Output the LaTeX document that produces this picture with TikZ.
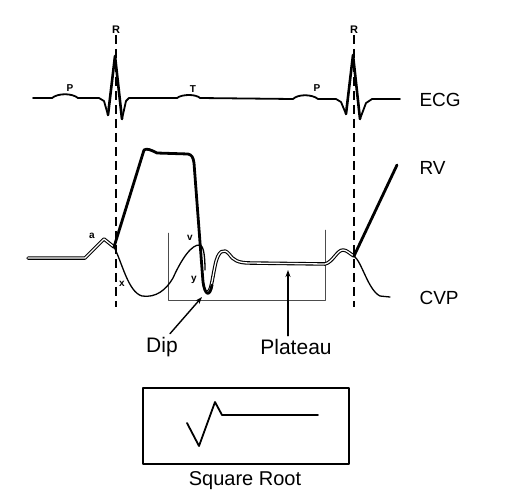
\documentclass[tikz,border=0pt]{standalone}
\usepackage{fontspec}
\setmainfont{Liberation Sans}
\usetikzlibrary{arrows.meta}

\begin{document}
\begin{tikzpicture}[x=1pt,y=-1pt,line cap=round,line join=round,
  big/.style={font=\fontsize{19}{19}\selectfont},
  bigger/.style={font=\fontsize{21}{21}\selectfont},
  tiny/.style={font=\fontsize{10}{10}\selectfont\bfseries,inner sep=1pt},
  rline/.style={line width=2.8pt,dash pattern=on 9pt off 5pt,line cap=butt},
  ecg/.style={line width=1.8pt},
  rv/.style={line width=2.8pt},
  cvp/.style={line width=1.3pt},
  cvpdbl/.style={draw=black,double=white,line width=1.1pt,double distance=1.3pt},
  box/.style={thin,black!70},
  pointer/.style={line width=1.4pt,-{Stealth[length=7pt,width=5pt]}}]
\useasboundingbox (0,0) rectangle (532,493);
% R lines
\foreach \x/\n in {116/1,354/2} {
   \node[tiny,font=\fontsize{11}{11}\selectfont\bfseries] (r\n) at (\x,30) {R};
   \coordinate (r\n b) at (\x,307);
   \draw[rline] (r\n) -- (r\n b);
}
% ECG
\draw[ecg] (33,98) -- (52,98) .. controls (58,93) and (72,93) .. (78,98) -- (99,98)
   -- (104,101) -- (108,115);
\draw[ecg,line width=2.6pt] (108,115) -- (115,56) -- (122,119);
\draw[ecg] (122,119) -- (126,101) -- (129,98) -- (177,98)
   .. controls (182,94) and (196,94) .. (200,98) -- (293,99)
   .. controls (298,94) and (312,94) .. (318,99) -- (336,99) -- (341,102) -- (346,114);
\draw[ecg,line width=2.6pt] (346,114) -- (353,55) -- (360,119);
\draw[ecg] (360,119) -- (366,103) -- (372,99) -- (400,99);
\foreach \x/\y/\t/\n in {70/88/P/1,193/89/T/2,317/88/P/3} {
   \node[tiny] (w\n) at (\x,\y) {\t};
}
\node[big,anchor=west] (ecglbl) at (416,100) {ECG};
% plateau box
\draw[box] (168,233) -- (168,300) -- (325,300) -- (325,230);
% CVP
\draw[cvpdbl] (28,258) -- (85,258) -- (104,239) -- (114,247);
\draw[cvp] (114,247) .. controls (122,262) and (128,292) .. (142,296)
   .. controls (156,298) and (166,290) .. (173,278)
   .. controls (182,258) and (192,244) .. (200,245)
   .. controls (204,246) and (205,258) .. (205,270);
\draw[cvpdbl] (207,292) .. controls (211,293) and (212,280) .. (215,266)
   .. controls (218,250) and (224,248) .. (229,254)
   .. controls (233,260) and (238,263) .. (250,263) -- (325,264)
   .. controls (333,262) and (337,250) .. (343,250)
   .. controls (347,250) and (350,254) .. (354,256);
\draw[cvp] (354,256) .. controls (362,262) and (368,290) .. (380,296) -- (390,297);
% RV
\draw[rv] (114,247) -- (144,150) .. controls (147,148) and (151,150) .. (157,153)
   -- (188,154) .. controls (192,155) and (193,157) .. (194,163)
   -- (203,282) .. controls (205,296) and (210,297) .. (212,285);
\draw[rv] (354,256) -- (397,165);
\node[big,anchor=west] (rvlbl) at (416,168) {RV};
\node[big,anchor=west] (cvplbl) at (416,298) {CVP};
% wave letters
\node[tiny] (la) at (92,236) {a};
\node[tiny] (lx) at (122,284) {x};
\node[tiny] (lv) at (190,238) {v};
\node[tiny] (ly) at (194,280) {y};
% pointers
\coordinate (dipend) at (202,297);
\coordinate (platend) at (288,270);
\node[bigger] (dip) at (162,347) {Dip};
\node[bigger] (plat) at (296,347) {Plateau};
\draw[pointer] (dip.north) ++(8,0) coordinate (dipstart) (dipstart) -- (dipend);
\draw[pointer] (plat.north -| platend) -- (platend);
% square root
\node[draw,line width=1.8pt,minimum width=206pt,minimum height=76pt] (sqbox) at (246,426) {};
\draw[line width=1.8pt] (187,423) -- (199,446) -- (215,402) -- (222,415) -- (318,415);
\node[bigger,font=\fontsize{20}{20}\selectfont] (sqlbl) at (245,481) {Square Root};
\end{tikzpicture}
\end{document}
